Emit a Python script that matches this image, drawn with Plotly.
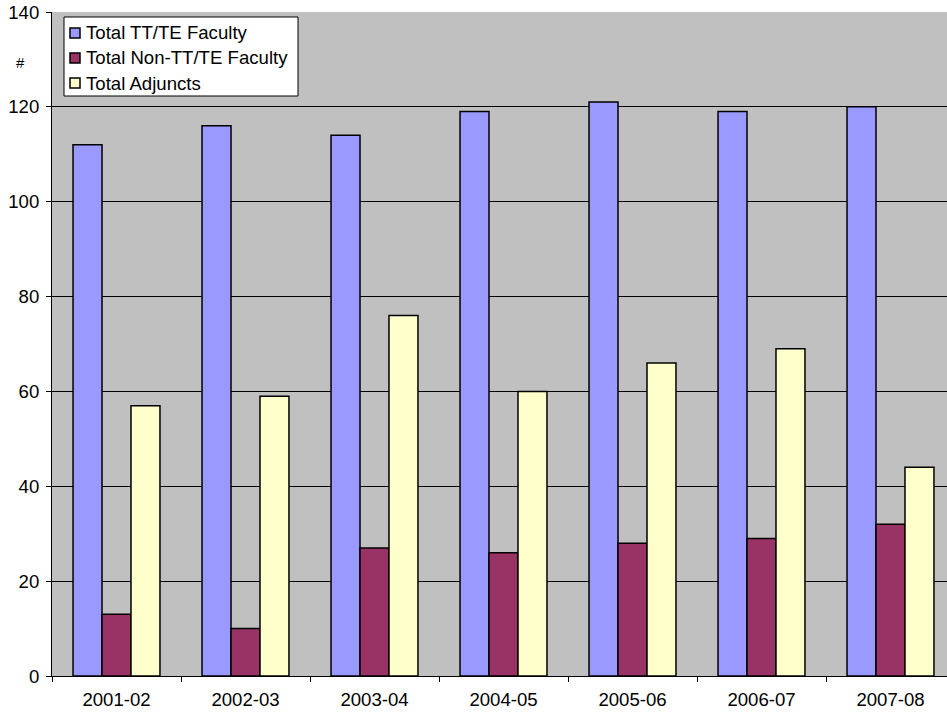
import plotly.graph_objects as go

years = ["2001-02", "2002-03", "2003-04", "2004-05", "2005-06", "2006-07", "2007-08"]
tt_te = [112, 116, 114, 119, 121, 119, 120]
non_tt_te = [13, 10, 27, 26, 28, 29, 32]
adjuncts = [57, 59, 76, 60, 66, 69, 44]
y_ticks = [0, 20, 40, 60, 80, 100, 120, 140]
names = ["Total TT/TE Faculty", "Total Non-TT/TE Faculty", "Total Adjuncts"]
colors = ["#9999FF", "#993366", "#FFFFCC"]

FAM = "Liberation Sans, Arial, sans-serif"
font = dict(family=FAM, size=18.6, color="black")

W, H = 947, 715
L, R, T, B = 52, 0, 12, 39
PW, PH = W - L - R, H - T - B

def px(x):
    return (x - L) / PW

def py(y):
    return (H - B - y) / PH

fig = go.Figure()
for name, vals, col in zip(names, [tt_te, non_tt_te, adjuncts], colors):
    fig.add_trace(go.Bar(x=years, y=vals, name=name,
                         marker=dict(color=col, line=dict(color="black", width=1.5))))

fig.update_layout(
    width=W, height=H,
    margin=dict(l=L, r=R, t=T, b=B),
    paper_bgcolor="white", plot_bgcolor="#C0C0C0",
    barmode="group", bargap=0.326, bargroupgap=0,
    font=font, showlegend=False,
)
fig.update_xaxes(type="category", range=[-0.5, 6.438], showline=True, linecolor="black", linewidth=1,
                 ticks="outside", tickson="boundaries", ticklen=5, tickcolor="black",
                 showgrid=False, tickfont=font, ticklabelstandoff=7)
fig.update_yaxes(range=[0, 140], tickvals=y_ticks, showline=True, linecolor="black", linewidth=1,
                 ticks="outside", ticklen=5, tickcolor="black", showgrid=True, gridcolor="black",
                 gridwidth=1, zeroline=False, tickfont=font, ticklabelstandoff=3)

# custom legend box
fig.add_shape(type="rect", xref="paper", yref="paper",
              x0=px(64), x1=px(298), y0=py(96), y1=py(17),
              fillcolor="white", line=dict(color="black", width=1), layer="above")
rows = [33, 58, 83]
for name, col, ry in zip(names, colors, rows):
    fig.add_shape(type="rect", xref="paper", yref="paper",
                  x0=px(70), x1=px(80), y0=py(ry + 5), y1=py(ry - 5),
                  fillcolor=col, line=dict(color="black", width=1.5), layer="above")
    fig.add_annotation(text=name, xref="paper", yref="paper", x=px(84), y=py(ry),
                       xanchor="left", yanchor="middle", showarrow=False, font=font)

fig.add_annotation(text="#", xref="paper", yref="paper", x=px(20), y=py(62),
                   xanchor="center", yanchor="middle", showarrow=False,
                   font=dict(family=FAM, size=15, color="black"))
fig.write_html("out.html")
